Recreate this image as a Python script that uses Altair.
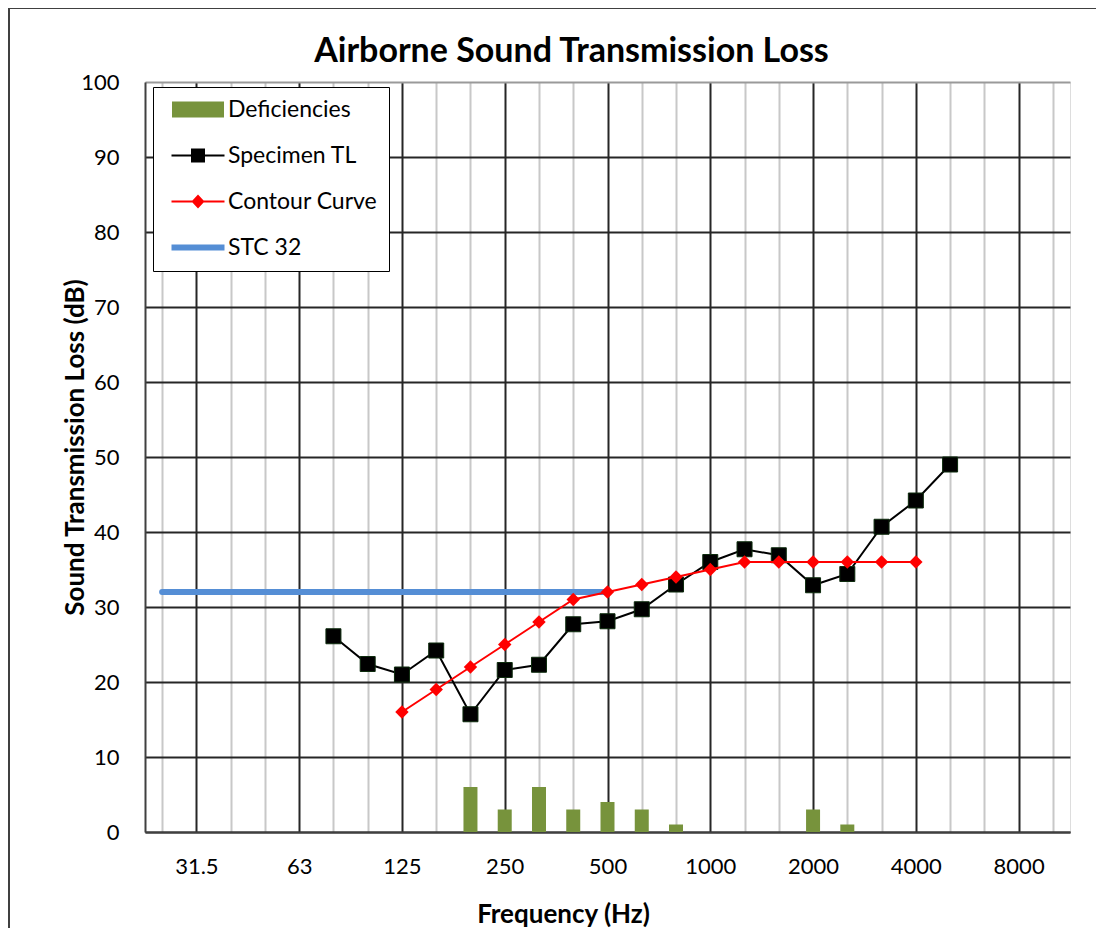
import json
import altair as alt
import pandas as pd

# ---- data ----
bands = ["25", "31.5", "40", "50", "63", "80", "100", "125", "160", "200", "250", "315",
         "400", "500", "630", "800", "1000", "1250", "1600", "2000", "2500", "3150",
         "4000", "5000", "6300", "8000", "10000"]
octave_labels = ["31.5", "63", "125", "250", "500", "1000", "2000", "4000", "8000"]

specimen_freqs = ["80", "100", "125", "160", "200", "250", "315", "400", "500", "630", "800",
                  "1000", "1250", "1600", "2000", "2500", "3150", "4000", "5000"]
specimen_tl = [26.1, 22.4, 21.0, 24.2, 15.7, 21.6, 22.3, 27.7, 28.1, 29.7, 33.0,
               36.0, 37.7, 36.9, 32.9, 34.4, 40.7, 44.2, 49.0]

contour_freqs = ["125", "160", "200", "250", "315", "400", "500", "630", "800", "1000",
                 "1250", "1600", "2000", "2500", "3150", "4000"]
contour_tl = [16, 19, 22, 25, 28, 31, 32, 33, 34, 35, 36, 36, 36, 36, 36, 36]

deficiency_freqs = ["200", "250", "315", "400", "500", "630", "800", "2000", "2500"]
deficiency_db = [6, 3, 6, 3, 4, 3, 1, 3, 1]

stc_freqs = ["25", "31.5", "40", "50", "63", "80", "100", "125", "160", "200", "250", "315", "400", "500"]
stc_rating = 32

series_names = ["Deficiencies", "Specimen TL", "Contour Curve", "STC 32"]
series_colors = ["#77933C", "#000000", "#FF0000", "#558ED5"]


def frame(freqs, values, name):
    return pd.DataFrame({
        "idx": [bands.index(f) for f in freqs],
        "freq": freqs,
        "value": values,
        "series": name,
    })


df_def = frame(deficiency_freqs, deficiency_db, series_names[0])
df_spec = frame(specimen_freqs, specimen_tl, series_names[1])
df_cont = frame(contour_freqs, contour_tl, series_names[2])
df_stc = frame(stc_freqs, [stc_rating] * len(stc_freqs), series_names[3])

FONT = "Lato"
bands_js = json.dumps(bands)
oct_js = json.dumps(octave_labels)
is_octave = f"indexof({oct_js}, {bands_js}[datum.value]) >= 0"

xscale = alt.Scale(domain=[-0.5, len(bands) - 0.5], nice=False, zero=False, padding=0)
yscale = alt.Scale(domain=[0, 100], nice=False, padding=0)

xaxis = alt.Axis(
    title="Frequency (Hz)", values=list(range(len(bands))),
    labelExpr=f"{is_octave} ? {bands_js}[datum.value] : ''",
    labelFont=FONT, labelFontSize=22, labelColor="#000", labelPadding=24,
    labelOverlap=False, labelFlush=False,
    ticks=False, tickSize=0,
    grid=True,
    gridColor={"condition": {"test": is_octave, "value": "#262626"}, "value": "#c8c8c8"},
    gridWidth=2,
    domainColor="#404040", domainWidth=2,
    titleFont=FONT, titleFontSize=26, titleFontWeight="bold", titleColor="#000",
    titleX=418, titleY=90, titleAlign="center", titleBaseline="alphabetic",
)
yaxis = alt.Axis(
    title="Sound Transmission Loss (dB)", values=list(range(0, 101, 10)),
    labelFont=FONT, labelFontSize=22, labelColor="#000", labelPadding=26,
    ticks=False, tickSize=0,
    grid=True,
    gridColor={"condition": {"test": "datum.value >= 100", "value": "#9a9a9a"}, "value": "#262626"},
    gridWidth=2,
    domainColor="#404040", domainWidth=2,
    titleFont=FONT, titleFontSize=26, titleFontWeight="bold", titleColor="#000",
    titleX=-70, titleY=365, titleAngle=270, titleAlign="center", titleBaseline="middle",
)

p_def = "M-2.6,-0.8H2.6V0.8H-2.6Z"
p_spec = "M-2.65,-0.1H2.65V0.1H-2.65Z M-0.7,-0.7H0.7V0.7H-0.7Z"
p_cont = "M-2.65,-0.1H2.65V0.1H-2.65Z M0,-0.7L0.65,0L0,0.7L-0.65,0Z"
p_stc = "M-2.65,-0.3H2.65V0.3H-2.65Z"
shape_expr = (f"datum.value == '{series_names[0]}' ? '{p_def}' : "
              f"datum.value == '{series_names[1]}' ? '{p_spec}' : "
              f"datum.value == '{series_names[2]}' ? '{p_cont}' : '{p_stc}'")

legend = alt.Legend(
    title=None, orient="none", legendX=8, legendY=5,
    padding=11, strokeColor="#000", fillColor="#fff",
    symbolSize=400, symbolOffset=22.5, labelOffset=18.5, rowPadding=22,
    symbolStrokeWidth=0, symbolOpacity=1,
    symbolType={"expr": shape_expr},
    symbolFillColor={"expr": "scale('color', datum.value)"},
    symbolStrokeColor="transparent",
    labelFont=FONT, labelFontSize=23, labelColor="#000", labelLimit=400,
)

color = alt.Color("series:N", scale=alt.Scale(domain=series_names, range=series_colors), legend=legend)
X = alt.X("idx:Q", scale=xscale, axis=xaxis)
Y = alt.Y("value:Q", scale=yscale, axis=yaxis)

border = alt.Chart(pd.DataFrame({"a": [0]})).mark_rect(
    fillOpacity=0, stroke="#404040", strokeWidth=2
).encode(x=alt.value(-136), x2=alt.value(952), y=alt.value(-74), y2=alt.value(900))

bars = alt.Chart(df_def).mark_bar(width=14, opacity=1).encode(x=X, y=Y, color=color)
stc = alt.Chart(df_stc).mark_line(strokeWidth=6, strokeCap="round", opacity=1).encode(x=X, y=Y, color=color)
spec_line = alt.Chart(df_spec).mark_line(strokeWidth=2, opacity=1).encode(x=X, y=Y, color=color)
spec_pts = alt.Chart(df_spec).mark_point(shape="square", filled=True, size=225, opacity=1,
                                         stroke="#0d2b0d", strokeWidth=1).encode(x=X, y=Y, color=color)
cont_line = alt.Chart(df_cont).mark_line(strokeWidth=2, opacity=1).encode(x=X, y=Y, color=color)
cont_pts = alt.Chart(df_cont).mark_point(shape="diamond", filled=True, size=180, opacity=1).encode(
    x=X, y=Y, color=color)

chart = alt.layer(border, bars, stc, spec_line, spec_pts, cont_line, cont_pts).properties(
    width=925, height=750,
    title=alt.TitleParams(
        "Airborne Sound Transmission Loss", font=FONT, fontSize=34, fontWeight="bold",
        color="#000", anchor="middle", frame="group", dx=-36, dy=108, offset=19, baseline="alphabetic",
    ),
    autosize=alt.AutoSizeParams(type="none"),
    padding={"left": 137, "top": 74, "right": 26, "bottom": 96},
).configure_view(stroke="#9a9a9a", strokeWidth=2).configure_legend(
    strokeWidth=2
).configure(background="white")

chart.save("out.html", embed_options={"renderer": "svg", "actions": False})
